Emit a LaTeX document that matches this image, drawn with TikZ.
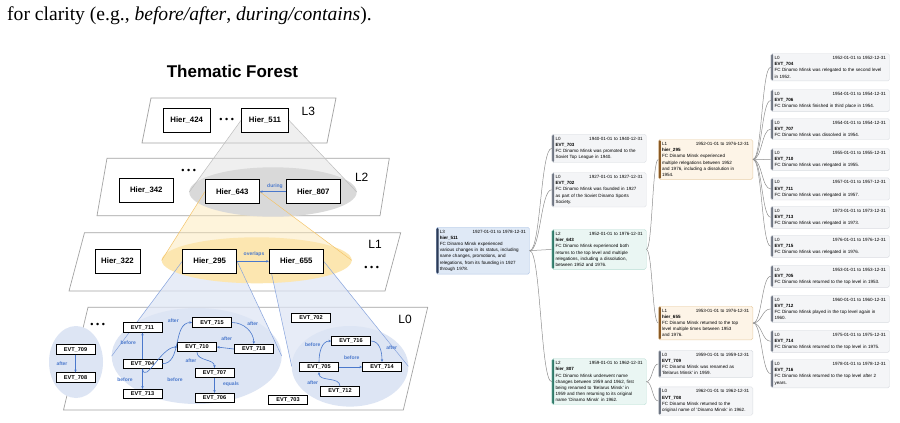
\documentclass[tikz,border=0pt]{standalone}
\usepackage{fontspec}
\setmainfont{Liberation Sans}
\newfontfamily\capfont{Liberation Serif}
\usetikzlibrary{arrows.meta,calc,backgrounds}

\definecolor{layerline}{HTML}{A3A3A3}
\definecolor{relblue}{HTML}{4A78CC}
\definecolor{ellgray}{HTML}{D9D9D9}
\definecolor{ellyellow}{HTML}{FCE6B0}
\definecolor{ellblue}{HTML}{DDE5F4}
\definecolor{yelline}{HTML}{F4C46A}
\definecolor{blueline}{HTML}{86A3DD}
\definecolor{grayline}{HTML}{BDBDBD}
\definecolor{linkgray}{HTML}{8E8E8E}
\definecolor{fillthree}{HTML}{DFE9F6}
\definecolor{barthree}{HTML}{2C3B57}
\definecolor{linethree}{HTML}{B3C7E6}
\definecolor{filltwo}{HTML}{EAF6F3}
\definecolor{bartwo}{HTML}{2F7A69}
\definecolor{linetwo}{HTML}{B5DCD2}
\definecolor{fillone}{HTML}{FDF4E7}
\definecolor{barone}{HTML}{8B5A24}
\definecolor{lineone}{HTML}{E9CFA8}
\definecolor{fillzero}{HTML}{F4F5F7}
\definecolor{barzero}{HTML}{6E7582}
\definecolor{linezero}{HTML}{D9DCE1}

\newcommand\cardhead[2]{#1\hskip 0pt plus 1filll #2}

\tikzset{
  hier/.style={draw, line width=0.8pt, fill=white, minimum width=54pt,
    minimum height=24pt, inner sep=0pt, font=\fontsize{7.8}{9}\selectfont\bfseries},
  evt/.style={draw, line width=0.7pt, fill=white, minimum width=39pt,
    minimum height=9.5pt, inner sep=0pt, font=\fontsize{5.6}{6}\selectfont\bfseries},
  rel/.style={relblue, line width=0.6pt, -{Stealth[length=2.8pt,width=2.4pt]}},
  rellabel/.style={text=relblue, inner sep=0pt, font=\fontsize{5}{6}\selectfont\bfseries},
  layer/.style={draw=layerline, fill=white, line width=0.7pt},
  lname/.style={inner sep=0pt, font=\fontsize{12}{14}\selectfont},
  dots/.style={inner sep=0pt, font=\fontsize{9}{12}\selectfont},
  link/.style={linkgray, line width=0.5pt,
    to path={.. controls ($(\tikztostart)+(#1,0)$) and ($(\tikztotarget)-(#1,0)$) .. (\tikztotarget)}},
  card/.style={anchor=north west, rounded corners=1.6pt, line width=0.4pt,
    inner xsep=3.6pt, inner ysep=2.8pt, align=left,
    font=\fontsize{4.55}{6.2}\selectfont},
  cardn/.style={card, text width=87.1pt},
  cardw/.style={card, text width=111.4pt},
  lev/.style n args={3}{fill=#1, draw=#2, path picture={\fill[#3]
    (path picture bounding box.north west) rectangle
    ([xshift=2.3pt]path picture bounding box.south west);}},
  levthree/.style={lev={fillthree}{linethree}{barthree}},
  levtwo/.style={lev={filltwo}{linetwo}{bartwo}},
  levone/.style={lev={fillone}{lineone}{barone}},
  levzero/.style={lev={fillzero}{linezero}{barzero}},
}

\begin{document}
\begin{tikzpicture}[x=1pt,y=-1pt]
\useasboundingbox (0,0) rectangle (900,423);

\node[anchor=base west, inner sep=0pt, font=\capfont\fontsize{19.6}{22}\selectfont]
  (caption) at (7,20.7) {for clarity (e.g., \textit{before/after}, \textit{during/contains}).};
\node[font=\fontsize{17}{20}\selectfont\bfseries] (title) at (232.5,71.7) {Thematic Forest};

% L3
\node[hier, minimum width=47pt] (h424) at (186.7,120.2) {Hier\_424};
\node[hier, minimum width=47pt] (h511) at (265,120.2) {Hier\_511};
\node[dots] (dthree) at (226.7,120.7) {• • •};
\node[lname] (nthree) at (308.3,111) {L3};

% L2
\node[hier] (h342) at (146.3,190.5) {Hier\_342};
\node[hier] (h643) at (232.3,191.7) {Hier\_643};
\node[hier] (h807) at (313.3,191.7) {Hier\_807};
\node[dots] (dtwo) at (188.7,171.7) {• • •};
\node[lname] (ntwo) at (361.7,177.7) {L2};
\draw[rel] (h807) -- (h643);
\node[rellabel] (during) at (275,186) {during};

% L1
\node[hier, minimum width=45pt] (h322) at (117.5,261.3) {Hier\_322};
\node[hier] (h295) at (209.7,261.3) {Hier\_295};
\node[hier] (h655) at (296.3,261.3) {Hier\_655};
\node[dots] (done) at (371.7,268.3) {• • •};
\node[lname] (none) at (375,244) {L1};
\draw[rel] (h295) -- (h655);
\node[rellabel] (overlaps) at (254,254) {overlaps};

% L0
\node[evt] (e709) at (75.5,349.5) {EVT\_709};
\node[evt] (e708) at (75.5,377.5) {EVT\_708};
\node[evt] (e711) at (142.5,327.5) {EVT\_711};
\node[evt] (e715) at (212,322.5) {EVT\_715};
\node[evt] (e710) at (197,347) {EVT\_710};
\node[evt] (e718) at (253.8,349) {EVT\_718};
\node[evt] (e704) at (142.5,363.7) {EVT\_704};
\node[evt] (e707) at (214.5,373) {EVT\_707};
\node[evt] (e713) at (142.5,394) {EVT\_713};
\node[evt] (e706) at (214.5,398) {EVT\_706};
\node[evt] (e702) at (311,318) {EVT\_702};
\node[evt] (e716) at (351,341) {EVT\_716};
\node[evt] (e705) at (319,367) {EVT\_705};
\node[evt] (e714) at (382,367) {EVT\_714};
\node[evt] (e712) at (340,391.3) {EVT\_712};
\node[evt] (e703) at (288,400) {EVT\_703};
\node[dots] (dzero) at (97.7,325) {• • •};
\node[lname] (nzero) at (405,319.3) {L0};

\draw[rel] (e709) -- (e708);
\draw[rel] (e704) -- (e711);
\draw[rel] (e704) -- (e713);
\draw[rel] (e704.east) to[out=0,in=180] (e715.west);
\draw[rel] (e715.east) to[out=0,in=90] (e718.north);
\draw[rel] (e718.west) -- (e710.east);
\draw[rel] (e704.south) to[out=-80,in=180] (e710.west);
\draw[rel] (e710.south) to[out=-90,in=90] (e707.north);
\draw[rel] (e707) -- (e706);
\draw[rel] (e705.north) to[out=90,in=180] (e716.west);
\draw[rel] (e716.east) to[out=0,in=90] (e714.north);
\draw[rel] (e705) -- (e714);
\draw[rel] (e712.north) to[out=90,in=-90] (e705.south);

\node[rellabel] (r1) at (62,364) {after};
\node[rellabel] (r2) at (128.3,342.7) {before};
\node[rellabel] (r3) at (125,379.3) {before};
\node[rellabel] (r4) at (173.3,321) {after};
\node[rellabel] (r5) at (252.7,323.3) {after};
\node[rellabel] (r6) at (226.7,338.3) {after};
\node[rellabel] (r7) at (175,379.3) {before};
\node[rellabel] (r8) at (191,360.7) {after};
\node[rellabel] (r9) at (231,384.3) {equals};
\node[rellabel] (r10) at (312.7,344.3) {before};
\node[rellabel] (r11) at (391.7,347.7) {after};
\node[rellabel] (r12) at (351.7,357.7) {before};
\node[rellabel] (r13) at (312.7,382.7) {after};

% ellipse ends
\coordinate (gl) at (189.3,192);   \coordinate (gr) at (356.7,192);
\coordinate (yl) at (161.7,260.3); \coordinate (yr) at (351.7,260.3);
\coordinate (bl) at (111.7,356);   \coordinate (br) at (281.7,356);
\coordinate (cl) at (291.7,366.3); \coordinate (cr) at (408.3,366.3);

\begin{scope}[on background layer]
  \filldraw[layer] (151,98) -- (336,98) -- (327,143) -- (142,143) -- cycle;
  \filldraw[layer] (107,158.3) -- (389.3,158.3) -- (380,215.7) -- (97,215.7) -- cycle;
  \filldraw[layer] (84.5,232.7) -- (400.7,232.7) -- (385,291) -- (69,291) -- cycle;
  \filldraw[layer] (88,307.3) -- (427.7,307.3) -- (403.3,410) -- (63.5,410) -- cycle;
  % cones
  \fill[gray!30, fill opacity=0.4] (h511.west) -- (h511.east) -- (gr) -- (gl) -- cycle;
  \fill[ellyellow, fill opacity=0.45] (h643.west) -- (h643.east) -- (yr) -- (yl) -- cycle;
  \fill[ellblue, fill opacity=0.7] (h295.west) -- (h295.east) -- (br) -- (bl) -- cycle;
  \fill[ellblue, fill opacity=0.7] (h655.west) -- (h655.east) -- (cr) -- (cl) -- cycle;
  % groups
  \fill[ellgray] (273,192) ellipse [x radius=83.7, y radius=24.7];
  \fill[ellyellow] (256.7,260.3) ellipse [x radius=95, y radius=23];
  \fill[ellblue] (196.7,356) ellipse [x radius=85, y radius=48];
  \fill[ellblue] (350,366.3) ellipse [x radius=58.3, y radius=40.3];
  \fill[ellblue] (76,362) ellipse [x radius=27, y radius=36];
  % cone edges
  \draw[grayline, line width=0.5pt] (h511.west) -- (gl) (h511.east) -- (gr);
  \draw[yelline, line width=0.5pt] (h643.west) -- (yl) (h643.east) -- (yr);
  \draw[blueline, line width=0.5pt] (h295.west) -- (bl) (h295.east) -- (br);
  \draw[blueline, line width=0.5pt] (h655.west) -- (cl) (h655.east) -- (cr);
\end{scope}

% cards
\node[cardn, text width=86.1pt, levthree] (c511) at (436,227)
  {\cardhead{L3}{1927-01-01 to 1978-12-31}\\\textbf{hier\_511}\\FC Dinamo Minsk experienced\\various changes in its status, including\\name changes, promotions, and\\relegations, from its founding in 1927\\through 1978.};

\node[cardn, levzero] (c703) at (551.7,134)
  {\cardhead{L0}{1940-01-01 to 1940-12-31}\\\textbf{EVT\_703}\\FC Dinamo Minsk was promoted to the\\Soviet Top League in 1940.};
\node[cardn, levzero] (c702) at (551.7,172.3)
  {\cardhead{L0}{1927-01-01 to 1927-12-31}\\\textbf{EVT\_702}\\FC Dinamo Minsk was founded in 1927\\as part of the Soviet Dinamo Sports\\Society.};
\node[cardn, levtwo] (c643) at (551.7,229.3)
  {\cardhead{L2}{1952-01-01 to 1976-12-31}\\\textbf{hier\_643}\\FC Dinamo Minsk experienced both\\returns to the top level and multiple\\relegations, including a dissolution,\\between 1952 and 1976.};
\node[cardn, levtwo] (c807) at (551.7,358.5)
  {\cardhead{L2}{1959-01-01 to 1962-12-31}\\\textbf{hier\_807}\\FC Dinamo Minsk underwent name\\changes between 1959 and 1962, first\\being renamed to 'Belarus Minsk' in\\1959 and then returning to its original\\name 'Dinamo Minsk' in 1962.};

\node[cardn, levone] (c295) at (658.3,139.3)
  {\cardhead{L1}{1952-01-01 to 1976-12-31}\\\textbf{hier\_295}\\FC Dinamo Minsk experienced\\multiple relegations between 1952\\and 1976, including a dissolution in\\1954.};
\node[cardn, levone] (c655) at (658.3,306)
  {\cardhead{L1}{1953-01-01 to 1976-12-31}\\\textbf{hier\_655}\\FC Dinamo Minsk returned to the top\\level multiple times between 1953\\and 1976.};
\node[cardn, levzero] (c709) at (658.3,350)
  {\cardhead{L0}{1959-01-01 to 1959-12-31}\\\textbf{EVT\_709}\\FC Dinamo Minsk was renamed as\\'Belarus Minsk' in 1959.};
\node[cardn, levzero] (c708) at (658.3,386.7)
  {\cardhead{L0}{1962-01-01 to 1962-12-31}\\\textbf{EVT\_708}\\FC Dinamo Minsk returned to the\\original name of 'Dinamo Minsk' in 1962.};

\node[cardw, levzero] (c704) at (770.7,53.3)
  {\cardhead{L0}{1952-01-01 to 1952-12-31}\\\textbf{EVT\_704}\\FC Dinamo Minsk was relegated to the second level\\in 1952.};
\node[cardw, levzero] (c706) at (770.7,89.3)
  {\cardhead{L0}{1954-01-01 to 1954-12-31}\\\textbf{EVT\_706}\\FC Dinamo Minsk finished in third place in 1954.};
\node[cardw, levzero] (c707) at (770.7,118.3)
  {\cardhead{L0}{1954-01-01 to 1954-12-31}\\\textbf{EVT\_707}\\FC Dinamo Minsk was dissolved in 1954.};
\node[cardw, levzero] (c710) at (770.7,148.3)
  {\cardhead{L0}{1955-01-01 to 1955-12-31}\\\textbf{EVT\_710}\\FC Dinamo Minsk was relegated in 1955.};
\node[cardw, levzero] (c711) at (770.7,177.7)
  {\cardhead{L0}{1957-01-01 to 1957-12-31}\\\textbf{EVT\_711}\\FC Dinamo Minsk was relegated in 1957.};
\node[cardw, levzero] (c713) at (770.7,206)
  {\cardhead{L0}{1973-01-01 to 1973-12-31}\\\textbf{EVT\_713}\\FC Dinamo Minsk was relegated in 1973.};
\node[cardw, levzero] (c715) at (770.7,235)
  {\cardhead{L0}{1976-01-01 to 1976-12-31}\\\textbf{EVT\_715}\\FC Dinamo Minsk was relegated in 1976.};
\node[cardw, levzero] (c705) at (770.7,265)
  {\cardhead{L0}{1953-01-01 to 1953-12-31}\\\textbf{EVT\_705}\\FC Dinamo Minsk returned to the top level in 1953.};
\node[cardw, levzero] (c712) at (770.7,295)
  {\cardhead{L0}{1960-01-01 to 1960-12-31}\\\textbf{EVT\_712}\\FC Dinamo Minsk played in the top level again in\\1960.};
\node[cardw, levzero] (c714) at (770.7,330)
  {\cardhead{L0}{1975-01-01 to 1975-12-31}\\\textbf{EVT\_714}\\FC Dinamo Minsk returned to the top level in 1975.};
\node[cardw, levzero] (c716) at (770.7,359.3)
  {\cardhead{L0}{1978-01-01 to 1978-12-31}\\\textbf{EVT\_716}\\FC Dinamo Minsk returned to the top level after 2\\years.};

% tree links
\foreach \k in {c703,c702,c643,c807} \draw[link=11] (c511.east) to (\k.west);
\foreach \k in {c295,c655} \draw[link=6] (c643.east) to (\k.west);
\foreach \k in {c709,c708} \draw[link=6] (c807.east) to (\k.west);
\foreach \k in {c704,c706,c707,c710,c711,c713,c715} \draw[link=9] (c295.east) to (\k.west);
\foreach \k in {c705,c712,c714,c716} \draw[link=9] (c655.east) to (\k.west);
\end{tikzpicture}
\end{document}
